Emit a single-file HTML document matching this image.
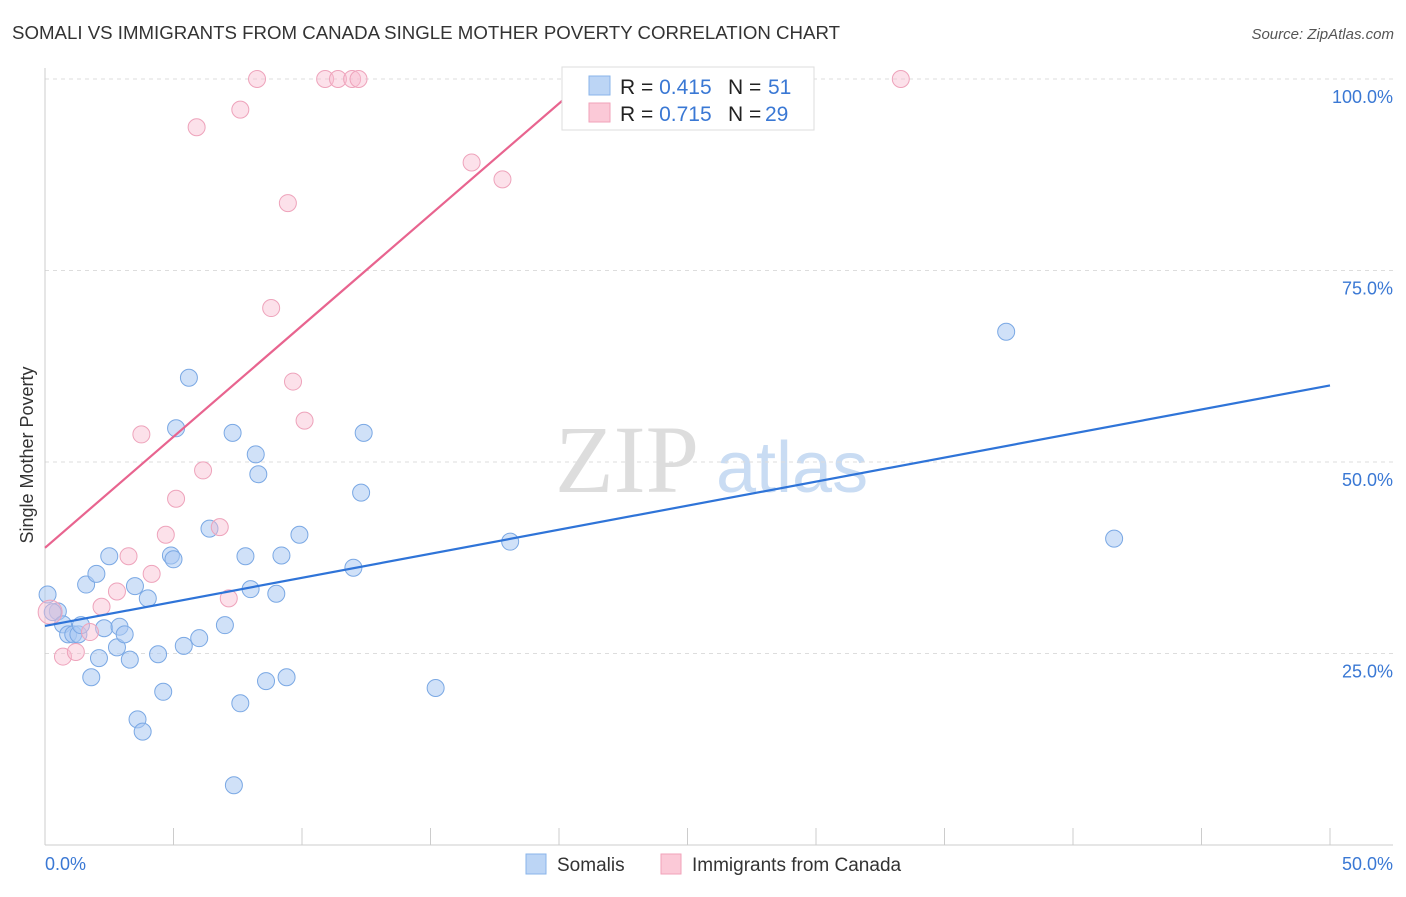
<!DOCTYPE html>
<html><head><meta charset="utf-8"><style>
body{margin:0;background:#fff;font-family:"Liberation Sans",sans-serif}
</style></head><body>
<svg width="1406" height="892" xmlns="http://www.w3.org/2000/svg">
<text x="12" y="39" font-size="18" fill="#333" textLength="828" lengthAdjust="spacingAndGlyphs">SOMALI VS IMMIGRANTS FROM CANADA SINGLE MOTHER POVERTY CORRELATION CHART</text>
<text x="1394" y="39" font-size="15" fill="#555" font-style="italic" text-anchor="end">Source: ZipAtlas.com</text>
<text x="555" y="492" font-size="96" fill="#ddd" font-family="Liberation Serif,serif">ZIP</text>
<text x="716" y="492" font-size="72" fill="#c9dcf3">atlas</text>
<g id="grid"></g>
<g id="axes"></g>
<g id="marks"></g>
<text x="33" y="455" font-size="18" fill="#333" text-anchor="middle" transform="rotate(-90 33 455)">Single Mother Poverty</text>
<text x="45" y="870" font-size="18" fill="#3a78d4">0.0%</text>
<text x="1393" y="870" font-size="18" fill="#3a78d4" text-anchor="end">50.0%</text>
<g>
<rect x="562" y="67" width="252" height="63" fill="#fff" stroke="#ddd"/>
<rect x="589" y="76" width="21" height="19" fill="#bcd5f5" stroke="#8ab4ea"/>
<rect x="589" y="103" width="21" height="19" fill="#fbc9d7" stroke="#f2a2ba"/>
<text x="620" y="94" font-size="21" fill="#222">R = <tspan fill="#3a78d4">0.415</tspan><tspan x="728">N = </tspan><tspan x="768" fill="#3a78d4">51</tspan></text>
<text x="620" y="121" font-size="21" fill="#222">R = <tspan fill="#3a78d4">0.715</tspan><tspan x="728">N = </tspan><tspan x="765" fill="#3a78d4">29</tspan></text>
</g>
<g>
<rect x="526" y="854" width="20" height="20" fill="#bcd5f5" stroke="#8ab4ea"/>
<text x="557" y="871" font-size="19" fill="#333">Somalis</text>
<rect x="661" y="854" width="20" height="20" fill="#fbc9d7" stroke="#f2a2ba"/>
<text x="692" y="871" font-size="19" fill="#333">Immigrants from Canada</text>
</g>
</svg>
<script>
const yTicks=[25,50,75,100];
const yTickLabels=["25.0%","50.0%","75.0%","100.0%"];
const xTicks=[0,5,10,15,20,25,30,35,40,45,50];
const somX=[0.1,0.5,0.3,0.7,0.9,1.1,1.3,1.4,1.6,1.8,2.0,2.1,2.3,2.5,2.8,2.9,3.1,3.3,3.5,3.6,3.8,4.0,4.4,4.6,4.9,5.0,5.1,5.4,5.6,6.0,6.4,7.0,7.3,7.35,7.6,7.8,8.0,8.2,8.3,8.6,9.0,9.2,9.4,9.9,12.0,12.3,12.4,15.2,18.1,37.4,41.6];
const somY=[32.7,30.5,30.4,28.8,27.5,27.5,27.5,28.7,34.0,21.9,35.4,24.4,28.3,37.7,25.8,28.5,27.5,24.2,33.8,16.4,14.8,32.2,24.9,20.0,37.8,37.3,54.4,26.0,61.0,27.0,41.3,28.7,53.8,7.8,18.5,37.7,33.4,51.0,48.4,21.4,32.8,37.8,21.9,40.5,36.2,46.0,53.8,20.5,39.6,67.0,40.0];
const canX=[0.2,0.7,1.2,1.75,2.2,2.8,3.25,3.75,4.15,4.7,5.1,5.9,6.15,6.8,7.15,7.6,8.25,8.8,9.45,9.65,10.1,10.9,11.4,11.95,12.2,16.6,17.8,33.3,24.2];
const canY=[30.4,24.6,25.2,27.8,31.1,33.1,37.7,53.6,35.4,40.5,45.2,93.7,48.9,41.5,32.2,96.0,100,70.1,83.8,60.5,55.4,100,100,100,100,89.1,86.9,100,100];
const somFit=[28.6,0.628];
const canFit=[38.8,2.9];
const NS="http://www.w3.org/2000/svg";
const X=v=>45+v*25.7, Y=v=>845-v*7.66;
function mk(t,a,p){const e=document.createElementNS(NS,t);for(const k in a)e.setAttribute(k,a[k]);document.getElementById(p).appendChild(e);return e;}
yTicks.forEach((t,i)=>{
 const g=mk('line',{x1:45,x2:1393,y1:Y(t),y2:Y(t),stroke:'#ddd','stroke-dasharray':'4,4'},'grid');
 
 
 const l=mk('text',{x:1393,y:Y(t)+24,'font-size':18,fill:'#3a78d4','text-anchor':'end'},'grid');
 l.textContent=yTickLabels[i];
 
 
});
const ax=mk('line',{x1:45,x2:1393,y1:845,y2:845,stroke:'#ccc'},'axes');


const ay=mk('line',{x1:45,x2:45,y1:68,y2:845,stroke:'#ccc'},'axes');


xTicks.forEach(t=>{
 const e=mk('line',{x1:X(t),x2:X(t),y1:828,y2:845,stroke:'#ccc'},'axes');
 
 
});
somX.forEach((x,i)=>{
 const c=mk('circle',{cx:X(x),cy:Y(somY[i]),r:8.5,fill:'#a9c9f2','fill-opacity':0.55,stroke:'#7aa8e4'},'marks');
 
 
});
canX.forEach((x,i)=>{
 const c=mk('circle',{cx:X(x),cy:Y(canY[i]),r:i==0?12:8.5,fill:'#f9bdd0','fill-opacity':0.45,stroke:'#eea3bb'},'marks');
 
 
});
const l1=mk('line',{x1:X(0),y1:Y(somFit[0]),x2:X(50),y2:Y(somFit[0]+50*somFit[1]),stroke:'#2f74d8','stroke-width':2.2},'marks');


const xe=(100-canFit[0])/canFit[1];
const l2=mk('line',{x1:X(0),y1:Y(canFit[0]),x2:X(xe),y2:Y(100),stroke:'#e8648f','stroke-width':2.2},'marks');


</script>
</body></html>
